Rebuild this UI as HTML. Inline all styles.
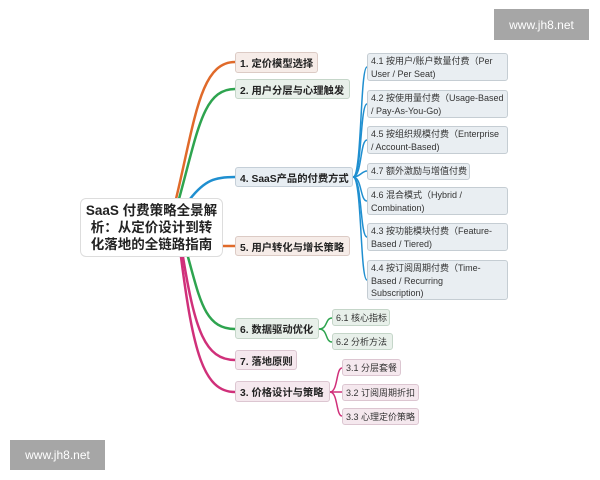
<!DOCTYPE html>
<html><head><meta charset="utf-8"><style>
body{margin:0;width:600px;height:480px;background:#fff;overflow:hidden;position:relative;font-family:"Liberation Sans","Noto Sans CJK SC",sans-serif}
.n{position:absolute;box-sizing:border-box;border-radius:3px;border:1px solid;font-weight:bold;font-size:10.3px;color:#222;padding:0 4px;display:flex;align-items:center;white-space:nowrap}
.b{position:absolute;box-sizing:border-box;border-radius:3px;border:1px solid #c5cdd3;background:#e9eef2;font-size:9px;color:#333;padding:1px 2px 1px 3px;line-height:12.5px;white-space:nowrap;overflow:hidden}
.s{position:absolute;box-sizing:border-box;border-radius:3px;border:1px solid;font-size:9px;color:#333;padding:0 3px;display:flex;align-items:center;white-space:nowrap}
.o{background:#f6ece8;border-color:#dccbc5}
.g{background:#e8f0ea;border-color:#c5d6c9}
.bl{background:#e8eef3;border-color:#c5cfd8}
.p{background:#f5e8ee;border-color:#dcc6d1}
.wm{position:absolute;background:#a6a6a6;color:#fff;font-size:12px;display:flex;align-items:center;justify-content:center}
</style></head><body>
<svg width="600" height="480" style="position:absolute;left:0;top:0" fill="none" stroke-linecap="round">
<g stroke-width="2.5">
<path d="M176,199 C195,120 200,62 235,62" stroke="#e06a2a"/>
<path d="M179,199 C198,130 203,89 235,89" stroke="#2ea44f"/>
<path d="M190,199 C205,180 215,177 235,177" stroke="#1f8fd0"/>
<path d="M222,246 L235,246" stroke="#e06a2a"/>
<path d="M188,257 C200,300 205,329 235,329" stroke="#2ea44f"/>
<path d="M183,257 C195,330 205,360 235,360" stroke="#d0307a"/>
<path d="M181,257 C193,350 203,392 235,392" stroke="#d0307a"/>
</g>
<g stroke="#1f8fd0" stroke-width="1.5">
<path d="M353,177 C362,177 360,67 367,67"/>
<path d="M353,177 C362,177 360,104 367,104"/>
<path d="M353,177 C362,177 360,140 367,140"/>
<path d="M353,177 C360,177 362,171 367,171"/>
<path d="M353,177 C362,177 360,201 367,201"/>
<path d="M353,177 C362,177 360,237 367,237"/>
<path d="M353,177 C362,177 360,280 367,280"/>
</g>
<g stroke="#2ea44f" stroke-width="1.5">
<path d="M319,329 C328,329 325,318 332,318"/>
<path d="M319,329 C328,329 325,342 332,342"/>
</g>
<g stroke="#d0307a" stroke-width="1.5">
<path d="M330,392 C338,392 336,368 342,368"/>
<path d="M330,392 L342,392"/>
<path d="M330,392 C338,392 336,416 342,416"/>
</g>
</svg>
<div style="position:absolute;left:80px;top:198px;width:143px;height:59px;box-sizing:border-box;border:1px solid #ddd;border-radius:6px;background:#fff;font-weight:bold;font-size:13.5px;line-height:17px;text-align:center;display:flex;align-items:center;justify-content:center;color:#222">SaaS 付费策略全景解<br>析：从定价设计到转<br>化落地的全链路指南</div>
<div class="n o" style="left:235px;top:52px;width:83px;height:21px">1. 定价模型选择</div>
<div class="n g" style="left:235px;top:79px;width:115px;height:20px">2. 用户分层与心理触发</div>
<div class="n bl" style="left:235px;top:167px;width:118px;height:20px">4. SaaS产品的付费方式</div>
<div class="n o" style="left:235px;top:236px;width:115px;height:20px">5. 用户转化与增长策略</div>
<div class="n g" style="left:235px;top:318px;width:84px;height:21px">6. 数据驱动优化</div>
<div class="n p" style="left:235px;top:350px;width:62px;height:20px">7. 落地原则</div>
<div class="n p" style="left:235px;top:381px;width:95px;height:21px">3. 价格设计与策略</div>
<div class="b" style="left:367px;top:53px;width:141px;height:28px">4.1 按用户/账户数量付费（Per<br>User / Per Seat)</div>
<div class="b" style="left:367px;top:90px;width:141px;height:28px">4.2 按使用量付费（Usage-Based<br>/ Pay-As-You-Go)</div>
<div class="b" style="left:367px;top:126px;width:141px;height:28px">4.5 按组织规模付费（Enterprise<br>/ Account-Based)</div>
<div class="b" style="left:367px;top:163px;width:103px;height:17px">4.7 额外激励与增值付费</div>
<div class="b" style="left:367px;top:187px;width:141px;height:28px">4.6 混合模式（Hybrid /<br>Combination)</div>
<div class="b" style="left:367px;top:223px;width:141px;height:28px">4.3 按功能模块付费（Feature-<br>Based / Tiered)</div>
<div class="b" style="left:367px;top:260px;width:141px;height:40px">4.4 按订阅周期付费（Time-<br>Based / Recurring<br>Subscription)</div>
<div class="s g" style="left:332px;top:309px;width:58px;height:17px">6.1 核心指标</div>
<div class="s g" style="left:332px;top:333px;width:61px;height:17px">6.2 分析方法</div>
<div class="s p" style="left:342px;top:359px;width:59px;height:17px">3.1 分层套餐</div>
<div class="s p" style="left:342px;top:384px;width:77px;height:17px">3.2 订阅周期折扣</div>
<div class="s p" style="left:342px;top:408px;width:77px;height:17px">3.3 心理定价策略</div>
<div class="wm" style="left:494px;top:9px;width:95px;height:31px">www.jh8.net</div>
<div class="wm" style="left:10px;top:440px;width:95px;height:30px">www.jh8.net</div>
</body></html>
